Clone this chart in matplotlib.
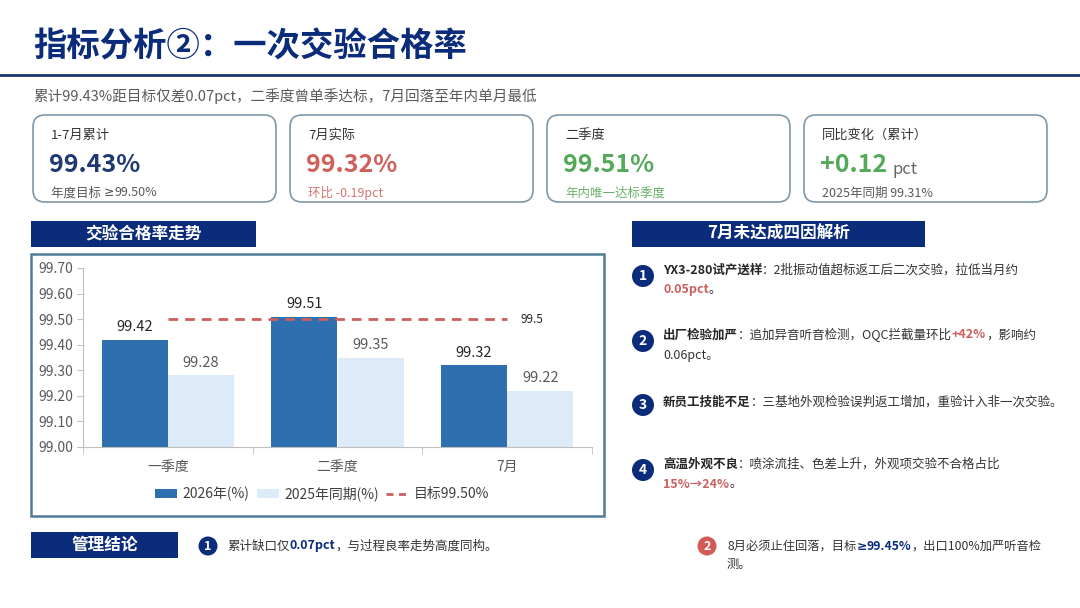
import numpy as np
import matplotlib
matplotlib.use('Agg')
import matplotlib.pyplot as plt
from matplotlib.patches import FancyBboxPatch, Rectangle, Circle, Patch
from matplotlib.lines import Line2D

plt.rcParams['font.family'] = ['Noto Sans CJK SC', 'DejaVu Sans']

# ---- 数据 ----
categories = ['一季度', '二季度', '7月']
rate_2026 = [99.42, 99.51, 99.32]
rate_2025 = [99.28, 99.35, 99.22]
target = 99.5
y_ticks = [99.00, 99.10, 99.20, 99.30, 99.40, 99.50, 99.60, 99.70]

card_titles = ['1-7月累计', '7月实际', '二季度', '同比变化（累计）']
card_values = ['99.43%', '99.32%', '99.51%', '+0.12']
card_notes = ['年度目标 ≥99.50%', '环比 -0.19pct', '年内唯一达标季度', '2025年同期 99.31%']

NAVY = '#0B2C7A'
RED = '#C9605E'
GREEN = '#55A95A'
GRAY = '#595959'
DARK = '#262626'
CJK = ['Noto Sans CJK SC', 'DejaVu Sans']
GE = ['DejaVu Sans']  # 普通的 ≥ 写法

fig = plt.figure(figsize=(10.8, 6.08), dpi=100)
fig.patch.set_facecolor('white')

# 背景层：像素坐标
bg = fig.add_axes([0, 0, 1, 1])
bg.set_xlim(0, 1080)
bg.set_ylim(608, 0)
bg.axis('off')
renderer = fig.canvas.get_renderer()


def rich(x, y, parts, size):
    for part in parts:
        txt, weight, color = part[:3]
        fam = part[3] if len(part) > 3 else CJK
        t = bg.text(x, y, txt, fontsize=size, fontweight=weight, color=color,
                    family=fam, ha='left', va='center')
        x += t.get_window_extent(renderer).width
    return x


def header(x, y, w, h, label):
    bg.add_patch(Rectangle((x, y), w, h, facecolor=NAVY, edgecolor='none'))
    bg.text(x + w / 2, y + h / 2, label, fontsize=12, fontweight='bold',
            color='white', ha='center', va='center')


def badge(x, y, num, color, r=11, size=10):
    bg.add_patch(Circle((x, y), r, facecolor=color, edgecolor='none'))
    bg.text(x, y, num, fontsize=size, fontweight='bold', color='white',
            ha='center', va='center')


# ---- 标题 ----
bg.text(33, 47, '指标分析②：一次交验合格率', fontsize=24, fontweight='bold',
        color=NAVY, ha='left', va='center')
bg.plot([0, 1080], [75, 75], color='#1A3570', lw=2)
bg.text(33, 96, '累计99.43%距目标仅差0.07pct，二季度曾单季达标，7月回落至年内单月最低',
        fontsize=10.5, color=GRAY, ha='left', va='center')

# ---- 指标卡片 ----
card_x = [33, 290, 547, 804]
value_colors = ['#1F3A70', '#D0605A', GREEN, GREEN]
note_colors = [GRAY, '#D57570', '#6AB06A', GRAY]
for i, cx in enumerate(card_x):
    bg.add_patch(FancyBboxPatch((cx, 115), 243, 87,
                                boxstyle='round,pad=0,rounding_size=12',
                                facecolor='white', edgecolor='#7F97A8', lw=1.2))
    bg.text(cx + 18, 135, card_titles[i], fontsize=9.5, color='#333333',
            ha='left', va='center')
    t = bg.text(cx + 16, 165, card_values[i], fontsize=18, fontweight='bold',
                color=value_colors[i], ha='left', va='center')
    if i == 3:
        wv = t.get_window_extent(renderer).width
        bg.text(cx + 16 + wv + 5, 169, 'pct', fontsize=12, color='#666666',
                ha='left', va='center')
    note = card_notes[i]
    if '≥' in note:
        a, b = note.split('≥')
        rich(cx + 18, 193, [(a, 'normal', note_colors[i]), ('≥', 'normal', note_colors[i], GE),
                            (b, 'normal', note_colors[i])], 9)
    else:
        bg.text(cx + 18, 193, note, fontsize=9, color=note_colors[i],
                ha='left', va='center')

# ---- 左侧图表 ----
header(31, 221, 225, 26, '交验合格率走势')
bg.add_patch(Rectangle((31, 254), 573, 262, facecolor='white',
                       edgecolor='#4F7C96', lw=1.8))

ax = fig.add_axes([83 / 1080, 1 - 447 / 608, 509 / 1080, 179 / 608])
ax.set_facecolor('none')
x = np.arange(len(categories))
w = 0.39
ax.bar(x - w / 2, rate_2026, w, color='#2E6FB0', zorder=2)
ax.bar(x + w / 2, rate_2025, w, color='#DDEBF8', zorder=2)
for xi, v in zip(x, rate_2026):
    ax.annotate(f'{v:.2f}', (xi - w / 2, v), xytext=(0, 4), textcoords='offset points',
                ha='center', va='bottom', fontsize=10.5, color=DARK)
for xi, v in zip(x, rate_2025):
    ax.annotate(f'{v:.2f}', (xi + w / 2, v), xytext=(0, 4), textcoords='offset points',
                ha='center', va='bottom', fontsize=10.5, color=GRAY)

ax.plot([x[0], x[-1]], [target, target], color=RED, lw=2,
        linestyle=(0, (3.5, 2.5)), zorder=3)
ax.text(x[-1] + 0.08, target, f'{target:g}', fontsize=8.5, color=DARK,
        ha='left', va='center')

ax.set_xlim(-0.5, len(categories) - 0.5)
ax.set_ylim(y_ticks[0], y_ticks[-1])
ax.set_yticks(y_ticks)
ax.set_yticklabels([f'{t:.2f}' for t in y_ticks])
ax.set_xticks(x)
ax.set_xticklabels(categories)
ax.set_xticks(np.arange(-0.5, len(categories)), minor=True)
ax.tick_params(axis='x', which='major', length=0, pad=9, labelsize=10, labelcolor=GRAY)
ax.tick_params(axis='x', which='minor', length=5, color='#BFBFBF', direction='out')
ax.tick_params(axis='y', length=4, color='#BFBFBF', labelsize=10, labelcolor=GRAY, pad=3)
for s in ['top', 'right']:
    ax.spines[s].set_visible(False)
for s in ['left', 'bottom']:
    ax.spines[s].set_color('#BFBFBF')

handles = [Patch(facecolor='#2E6FB0'), Patch(facecolor='#DDEBF8'),
           Line2D([0], [0], color=RED, lw=2, linestyle=(0, (2.5, 2)))]
ax.legend(handles, ['2026年(%)', '2025年同期(%)', '目标99.50%'],
          loc='center', bbox_to_anchor=(322 / 1080, 1 - 494 / 608),
          bbox_transform=fig.transFigure, ncol=3, frameon=False, fontsize=10,
          labelcolor='#404040', handlelength=1.6, handleheight=0.6,
          handletextpad=0.4, columnspacing=0.5)

# ---- 右侧：四因解析 ----
header(632, 221, 293, 26, '7月未达成四因解析')
items = [
    (276, [[('YX3-280试产送样', 'bold', DARK), ('：2批振动值超标返工后二次交验，拉低当月约', 'normal', '#333333')],
           [('0.05pct', 'bold', RED), ('。', 'normal', '#333333')]]),
    (341, [[('出厂检验加严', 'bold', DARK), ('：追加异音听音检测，OQC拦截量环比', 'normal', '#333333'),
            ('+42%', 'bold', RED), ('，影响约', 'normal', '#333333')],
           [('0.06pct。', 'normal', '#333333')]]),
    (405, [[('新员工技能不足', 'bold', DARK), ('：三基地外观检验误判返工增加，重验计入非一次交验。', 'normal', '#333333')]]),
    (470, [[('高温外观不良', 'bold', DARK), ('：喷涂流挂、色差上升，外观项交验不合格占比', 'normal', '#333333')],
           [('15%→24%', 'bold', RED), ('。', 'normal', '#333333')]]),
]
for k, (cy, lines) in enumerate(items):
    badge(643, cy, str(k + 1), NAVY)
    y0 = cy - 6 if len(lines) > 1 else cy - 3
    for j, parts in enumerate(lines):
        rich(663, y0 + j * 20, parts, 9)

# ---- 底部：管理结论 ----
header(31, 532, 147, 26, '管理结论')
badge(208, 546, '1', NAVY, r=9.5, size=9)
rich(227, 546, [('累计缺口仅', 'normal', '#333333'), ('0.07pct', 'bold', NAVY),
                ('，与过程良率走势高度同构。', 'normal', '#333333')], 9)
badge(707, 546, '2', '#D25B55', r=9.5, size=9)
rich(727, 546, [('8月必须止住回落，目标', 'normal', '#333333'), ('≥', 'bold', NAVY, GE),
                ('99.45%', 'bold', NAVY), ('，出口100%加严听音检', 'normal', '#333333')], 8.8)
rich(727, 564, [('测。', 'normal', '#333333')], 8.8)

fig.savefig('out.png', dpi=100)
